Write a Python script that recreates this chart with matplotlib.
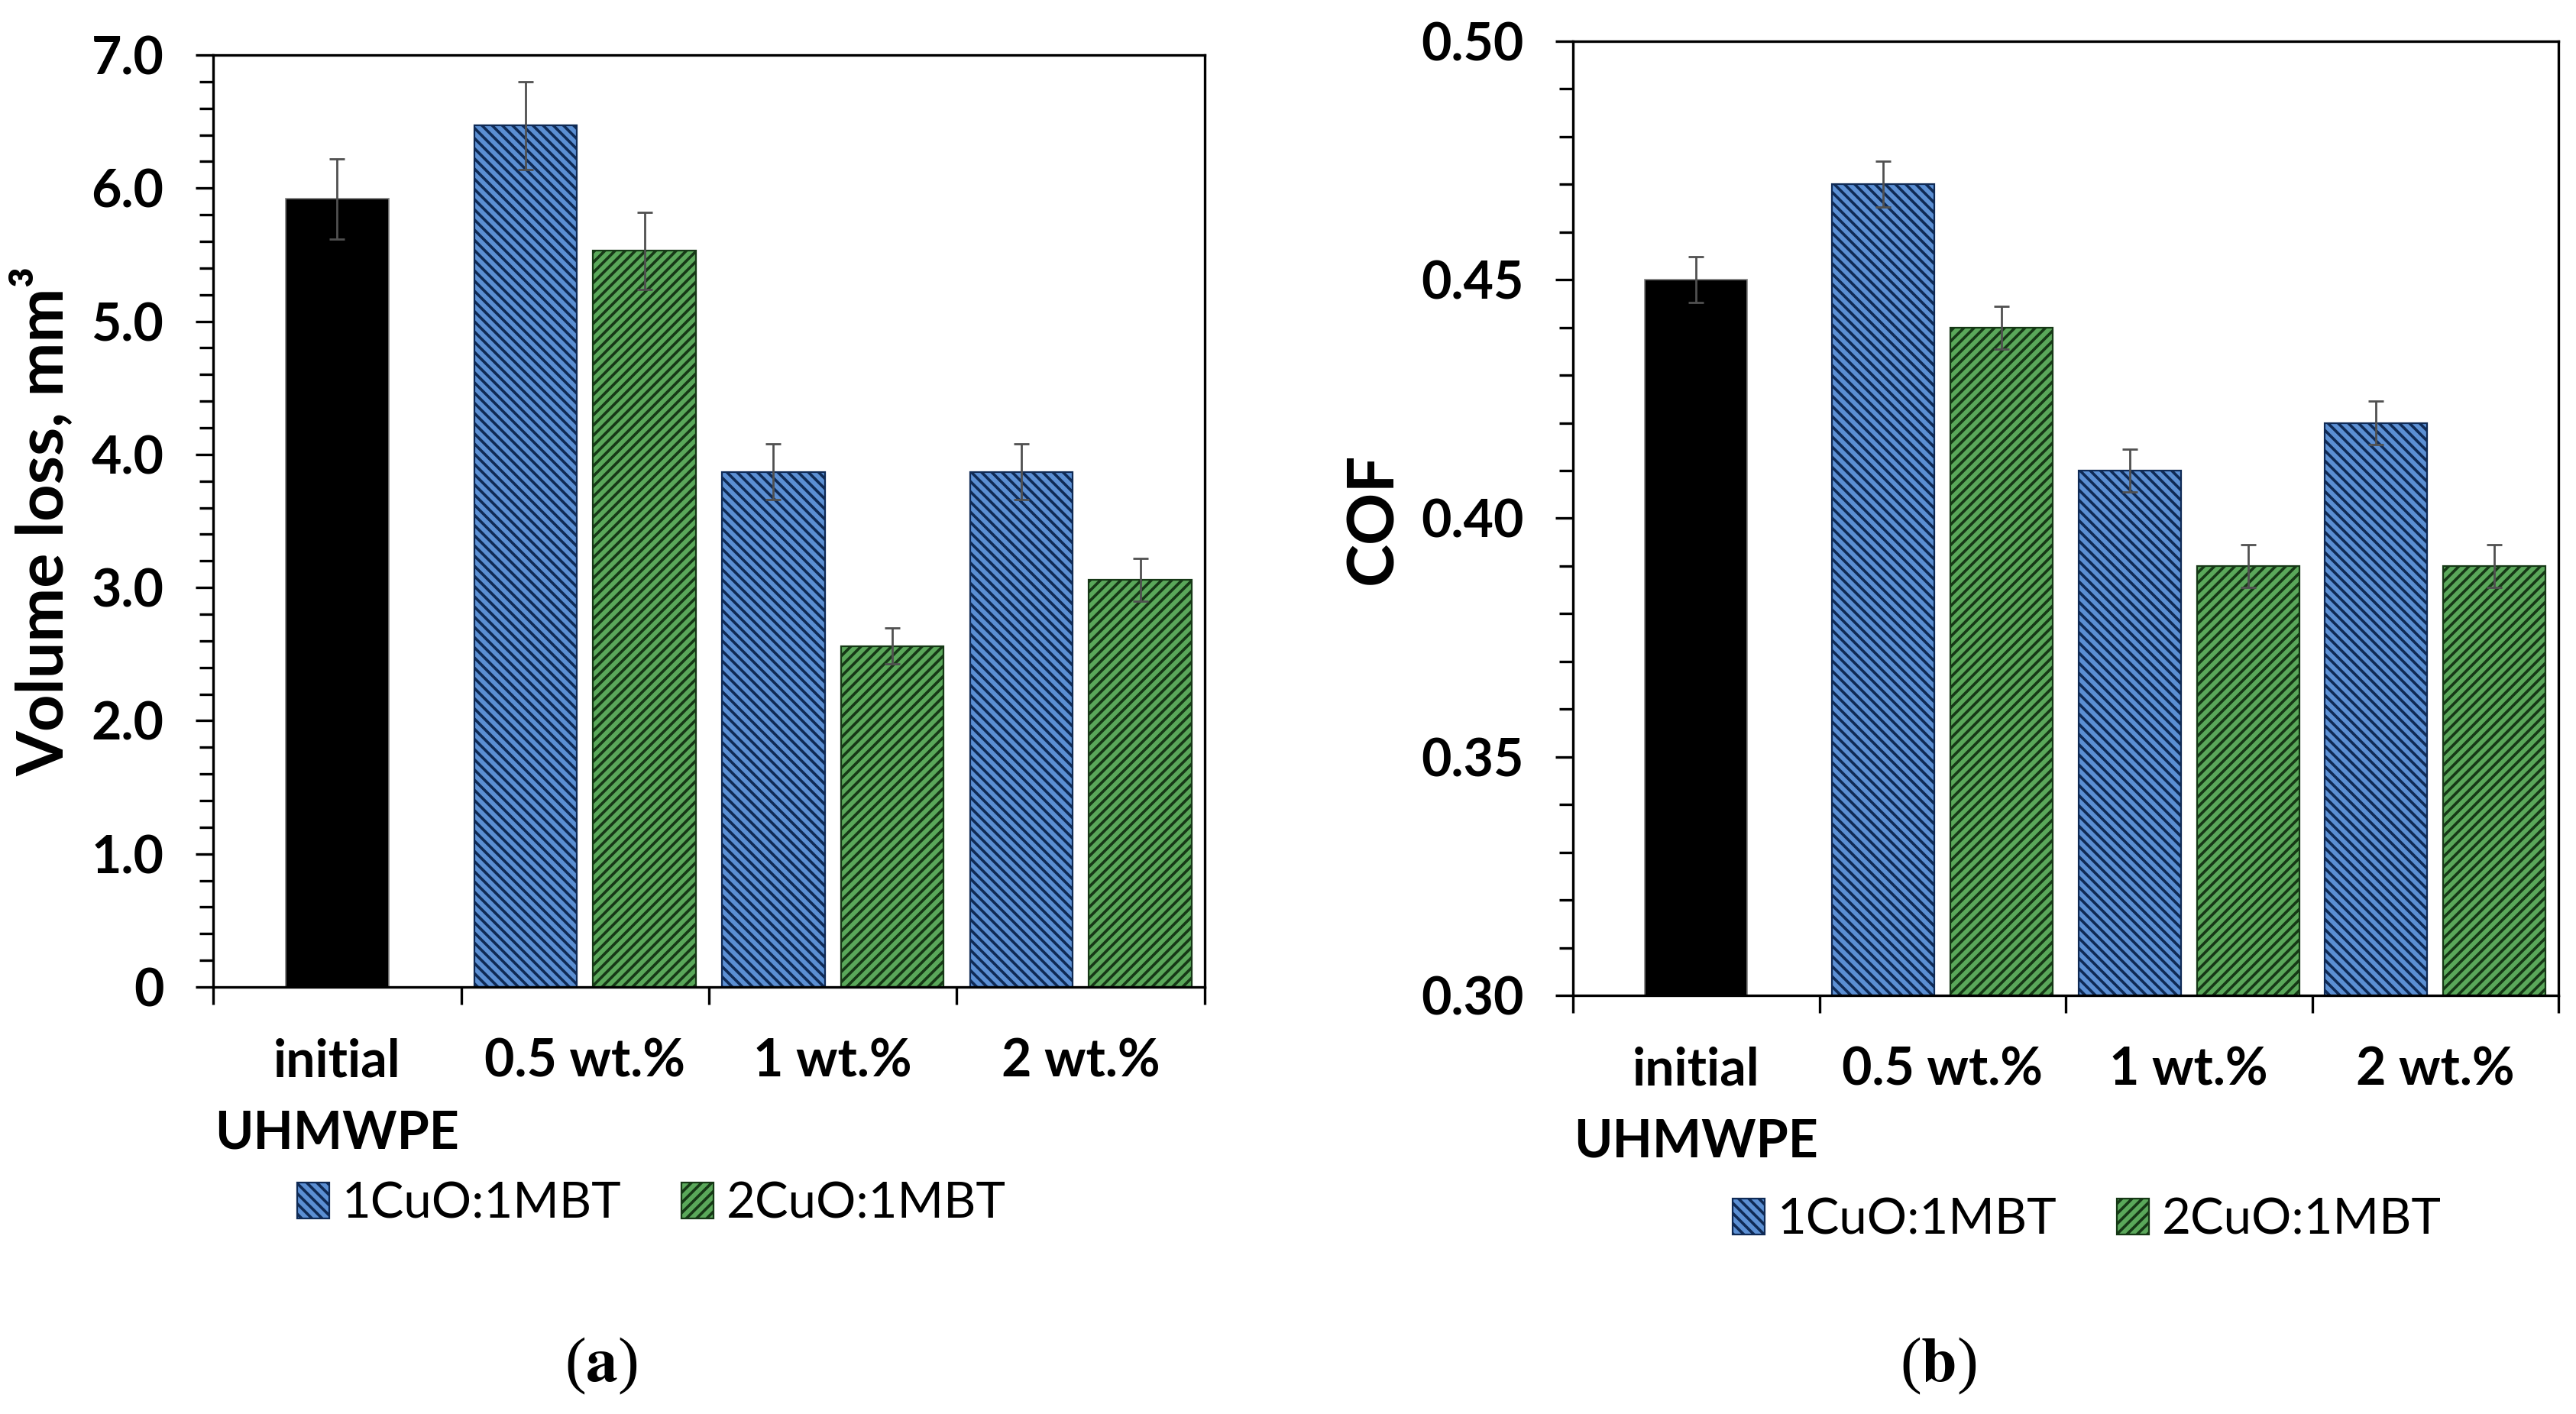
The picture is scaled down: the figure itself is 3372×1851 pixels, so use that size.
import numpy as np
import matplotlib
matplotlib.use('Agg')
import matplotlib.pyplot as plt
from matplotlib.patches import Patch
from matplotlib.ticker import MultipleLocator, FuncFormatter

# dati
categories = ['initial\nUHMWPE', '0.5 wt.%', '1 wt.%', '2 wt.%']
series_names = ['1CuO:1MBT', '2CuO:1MBT']

vol_initial = 5.92
vol_initial_err = 0.30
vol_1cuo = [6.47, 3.87, 3.87]
vol_1cuo_err = [0.33, 0.21, 0.21]
vol_2cuo = [5.53, 2.56, 3.06]
vol_2cuo_err = [0.29, 0.135, 0.16]

cof_initial = 0.450
cof_initial_err = 0.0048
cof_1cuo = [0.470, 0.410, 0.420]
cof_1cuo_err = [0.0048, 0.0045, 0.0045]
cof_2cuo = [0.440, 0.390, 0.390]
cof_2cuo_err = [0.0045, 0.0045, 0.0045]

plt.rcParams['hatch.linewidth'] = 1.3
plt.rcParams['mathtext.fontset'] = 'stix'

W, H = 3372, 1851
DPI = 200
fig = plt.figure(figsize=(W / DPI, H / DPI), dpi=DPI)

BLUE = '#5b8fd3'
BLUE_EDGE = '#0f2a55'
GREEN = '#5aa85a'
GREEN_EDGE = '#163816'
ERR = '#505050'
FONT = 'Lato'


def px_rect(x0, y0, x1, y1):
    # rettangolo in pixel -> coordinate figura
    return [x0 / W, 1 - y1 / H, (x1 - x0) / W, (y1 - y0) / H]


def draw_panel(ax, initial, initial_err, s1, s1_err, s2, s2_err, ylim, major, minor, fmt, ylabel, label_x):
    centers = np.arange(len(categories)) + 0.5
    bw = 0.415
    off = 0.24
    err_kw = dict(ecolor=ERR, elinewidth=1.0, capsize=3.5, capthick=1.0)

    ax.bar(centers[0], initial, bw, color='black', edgecolor='#7f7f7f', linewidth=0.6,
           yerr=initial_err, error_kw=err_kw, zorder=2)
    ax.bar(centers[1:] - off, s1, bw, color=BLUE, edgecolor=BLUE_EDGE, linewidth=0.8,
           hatch='\\\\\\\\\\', yerr=s1_err, error_kw=err_kw, zorder=2)
    ax.bar(centers[1:] + off, s2, bw, color=GREEN, edgecolor=GREEN_EDGE, linewidth=0.8,
           hatch='/////', yerr=s2_err, error_kw=err_kw, zorder=2)

    ax.set_xlim(0, len(categories))
    ax.set_ylim(*ylim)

    # assi stile Excel
    for sp in ax.spines.values():
        sp.set_linewidth(1.2)
        sp.set_color('black')

    ax.yaxis.set_major_locator(MultipleLocator(major))
    ax.yaxis.set_minor_locator(MultipleLocator(minor))
    ax.yaxis.set_major_formatter(FuncFormatter(fmt))
    ax.tick_params(axis='y', which='major', direction='out', length=8.3, width=1.2, pad=15)
    ax.tick_params(axis='y', which='minor', direction='out', length=6.5, width=1.2)

    ax.set_xticks(np.arange(len(categories) + 1))
    ax.set_xticklabels([])
    ax.set_xticks(centers, minor=True)
    ax.set_xticklabels(categories, minor=True, linespacing=1.6)
    ax.tick_params(axis='x', which='major', direction='out', length=8.3, width=1.2)
    ax.tick_params(axis='x', which='minor', length=0, pad=24)

    for lab in ax.get_yticklabels() + ax.get_xticklabels(minor=True):
        lab.set_fontfamily(FONT)
        lab.set_fontweight('bold')
        lab.set_fontsize(24.5)

    ax.set_ylabel(ylabel, fontfamily=FONT, fontweight='bold', fontsize=30.5)
    ax.yaxis.set_label_coords(label_x, 0.5)


ax1 = fig.add_axes(px_rect(279, 72, 1577, 1292))
draw_panel(ax1, vol_initial, vol_initial_err, vol_1cuo, vol_1cuo_err, vol_2cuo, vol_2cuo_err,
           (0, 7.0), 1.0, 0.2, lambda v, p: '0' if abs(v) < 1e-9 else f'{v:.1f}',
           'Volume loss, mm³', -0.14)

ax2 = fig.add_axes(px_rect(2059, 54, 3349, 1303))
draw_panel(ax2, cof_initial, cof_initial_err, cof_1cuo, cof_1cuo_err, cof_2cuo, cof_2cuo_err,
           (0.30, 0.50), 0.05, 0.01, lambda v, p: f'{v:.2f}',
           'COF', -0.173)

handles = [Patch(facecolor=BLUE, edgecolor=BLUE_EDGE, hatch='\\\\\\\\\\', linewidth=0.8),
           Patch(facecolor=GREEN, edgecolor=GREEN_EDGE, hatch='/////', linewidth=0.8)]

for ax, (lx, ly) in [(ax1, (389, 1576)), (ax2, (2268, 1597))]:
    ax.legend(handles, series_names, loc='center left', bbox_to_anchor=(lx / W, 1 - ly / H),
              bbox_transform=fig.transFigure, ncol=2, frameon=False, borderpad=0,
              borderaxespad=0, handlelength=0.65, handleheight=0.72, handletextpad=0.25,
              columnspacing=1.2, prop={'family': FONT, 'size': 23.5})

# etichette dei pannelli
fig.text(787 / W, 1 - 1788 / H, r'($\mathbf{a}$)', family='Liberation Serif', fontsize=30,
         ha='center', va='center')
fig.text(2537 / W, 1 - 1788 / H, r'($\mathbf{b}$)', family='Liberation Serif', fontsize=30,
         ha='center', va='center')

fig.savefig('out.png', dpi=DPI, facecolor='white')
